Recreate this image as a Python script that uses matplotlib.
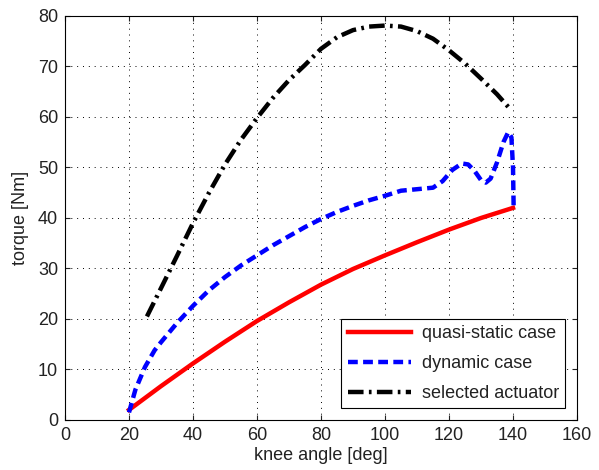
import numpy as np
import matplotlib.pyplot as plt

plt.rcParams['font.family'] = ['Liberation Sans', 'DejaVu Sans']

# quasi-static case
qs_x = [20, 30, 40, 50, 60, 70, 80, 90, 100, 110, 120, 130, 140]
qs_y = [2.0, 6.7, 11.2, 15.5, 19.6, 23.3, 26.8, 29.9, 32.6, 35.2, 37.7, 40.0, 42.0]

# dynamic case
dyn_x = [20, 22, 25, 28, 30, 35, 40, 45, 50, 55, 60, 65, 70, 75, 80, 85, 90, 95, 100,
         105, 110, 115, 118, 121, 124, 126, 128, 130, 131.5, 133, 135, 137, 138.5, 139.5, 140, 140.2]
dyn_y = [1.5, 6, 10.5, 13.8, 15.4, 19.2, 22.6, 25.7, 28.3, 30.6, 32.6, 34.6, 36.4, 38.2, 39.8, 41.2, 42.4, 43.5, 44.4,
         45.4, 45.7, 46.0, 47.3, 49.5, 50.8, 50.6, 49.3, 47.5, 47.0, 47.8, 51.0, 55.0, 57.0, 56.0, 50.0, 42.0]

# selected actuator
act_x = [25.6, 30, 35, 40, 45, 50, 55, 60, 65, 70, 75, 80, 85, 90, 95, 100,
         105, 110, 115, 120, 125, 130, 135, 138.5]
act_y = [20.5, 26.1, 32.5, 39.0, 45.0, 50.6, 55.5, 59.8, 63.8, 67.3, 70.3, 73.5, 75.8, 77.2, 77.9, 78.1,
         77.9, 77.0, 75.5, 73.2, 70.6, 67.6, 64.5, 62.0]

fig = plt.figure(figsize=(5.99, 4.70), dpi=100)
ax = fig.add_axes([0.1085, 0.1064, 0.8548, 0.8596])

ax.plot(qs_x, qs_y, color='red', lw=3.2, label='quasi-static case')
ax.plot(dyn_x, dyn_y, color='blue', lw=3.2, ls=(0, (2.2, 1.2)), label='dynamic case')
ax.plot(act_x, act_y, color='black', lw=3.2, ls=(0, (3.5, 1.2, 0.6, 1.2)), label='selected actuator')

ax.set_xlim(0, 160)
ax.set_ylim(0, 80)
ax.set_xticks(np.arange(0, 161, 20))
ax.set_yticks(np.arange(0, 81, 10))
ax.grid(True, color='black', ls=(0, (1, 5)), lw=0.7)
ax.tick_params(direction='in', top=True, right=True, labelsize=13, colors='#222222', pad=5)
ax.set_xlabel('knee angle [deg]', fontsize=13, labelpad=2, color='#222222')
ax.set_ylabel('torque [Nm]', fontsize=13, labelpad=6, color='#222222')

leg = ax.legend(loc='lower right', fontsize=13, fancybox=False, framealpha=1,
                edgecolor='black', borderaxespad=0.65, handlelength=3.5,
                handletextpad=0.6, labelspacing=0.72, borderpad=0.35)
leg.get_frame().set_linewidth(0.8)
for t in leg.get_texts():
    t.set_color('#222222')

fig.savefig('out.png', dpi=100)
